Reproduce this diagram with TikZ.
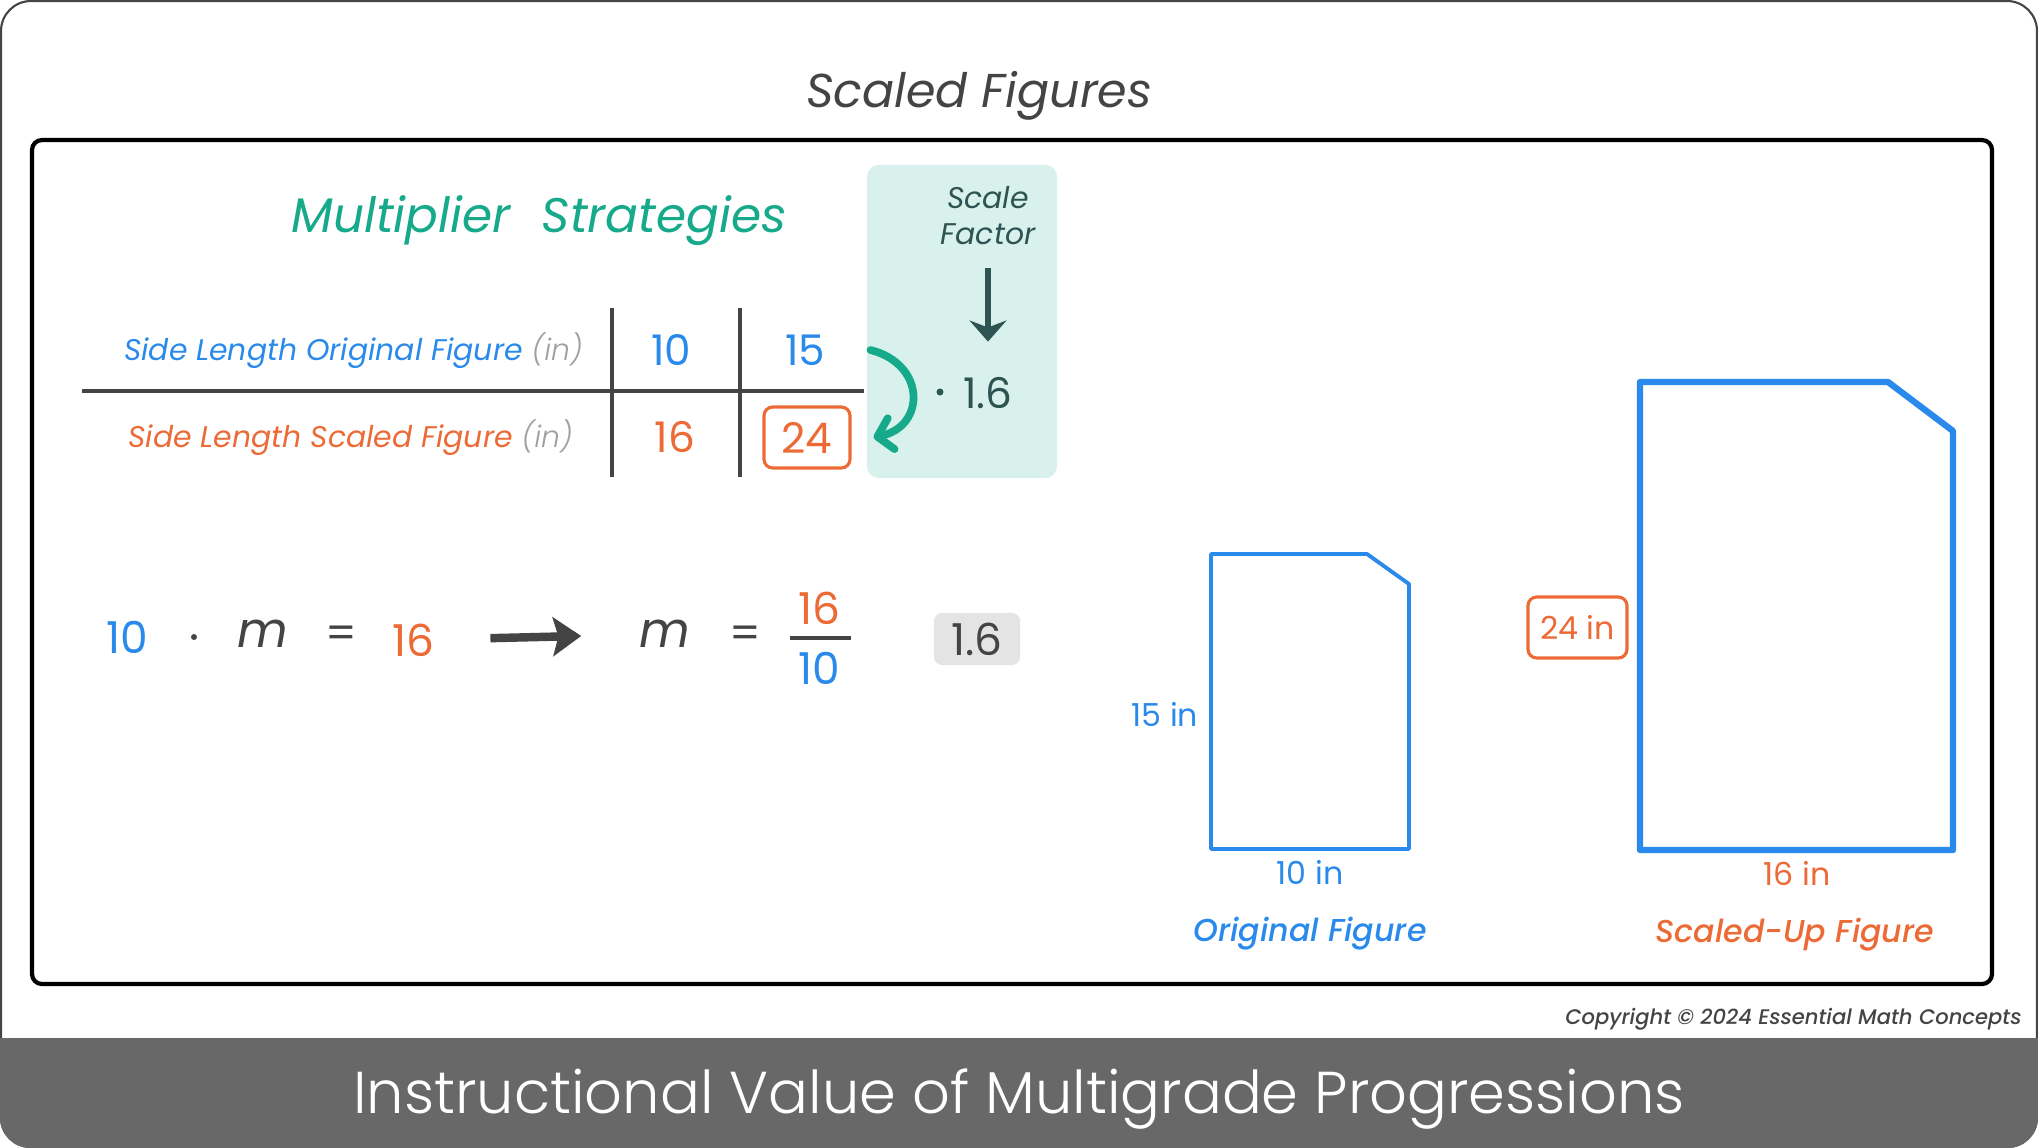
\documentclass[tikz,border=0pt]{standalone}
\usepackage{fontspec}
\setmainfont{Poppins}
\newfontfamily\lightfont{Poppins Light}
\newfontfamily\mediumfont{Poppins Medium}
\usetikzlibrary{arrows.meta}
\definecolor{figblue}{HTML}{2A8AEC}
\definecolor{scaleorange}{HTML}{EC6A36}
\definecolor{stratteal}{HTML}{16A98A}
\definecolor{tealfill}{HTML}{D8F1EC}
\definecolor{slatedark}{HTML}{2E5353}
\definecolor{textgray}{HTML}{444444}
\definecolor{ingray}{HTML}{A0A0A0}
\definecolor{bandgray}{HTML}{686868}
\definecolor{answergray}{HTML}{E4E4E4}

\begin{document}
\begin{tikzpicture}[
    x=0.01cm, y=-0.01cm,
    heading/.style={font=\fontsize{13.5}{15}\selectfont\itshape, text=textgray},
    rowlabel/.style={anchor=east, font=\fontsize{8.5}{10}\selectfont\itshape},
    cellnum/.style={font=\fontsize{12}{14}\selectfont},
    eqnum/.style={font=\fontsize{12.5}{14}\selectfont},
    sizelabel/.style={font=\fontsize{9}{11}\selectfont},
    figname/.style={font=\fontsize{9}{11}\selectfont\mediumfont\itshape},
    rule/.style={line width=0.9pt, draw=textgray},
    answerbox/.style={draw=scaleorange, line width=0.9pt, rounded corners=2.5pt,
                      minimum height=0.61cm, inner sep=0pt},
    smalldot/.style={circle, fill=#1, inner sep=0pt, minimum size=0.07cm},
    sfarrow/.style={-{Stealth[length=6pt, width=10.5pt, inset=2pt]}, line width=1.5pt, slatedark},
    bigarrow/.style={-{Stealth[length=8pt, width=11pt, inset=1.5pt]}, line width=2.4pt, textgray},
    curvearrow/.style={-{Straight Barb[round, length=4pt, width=9pt]}, line width=2.2pt,
                       stratteal, line cap=round}
]
\useasboundingbox (0,0) rectangle (2038,1148);

% slide outline and footer band
\draw[textgray, line width=0.6pt, rounded corners=0.3cm] (1,1) rectangle (2037,1147);
\fill[bandgray] (0,1038) -- (2038,1038) [rounded corners=0.3cm] -- (2038,1148) -- (0,1148)
    [sharp corners] -- cycle;
\node[text=white, font=\fontsize{16.8}{18}\selectfont\lightfont] at (1019,1099) (footer)
    {Instructional Value of Multigrade Progressions};
\node[anchor=east, text=textgray, font=\fontsize{6}{7}\selectfont\mediumfont\itshape]
    at (2034,1019) (copyright) {Copyright © 2024 Essential Math Concepts};

% title and frame
\node[heading] at (979,96) (title) {Scaled Figures};
\draw[line width=1.2pt, rounded corners=0.1cm] (32,140) rectangle (1992,984);

% scale factor panel
\node[fill=tealfill, rounded corners=0.12cm, minimum width=1.9cm, minimum height=3.13cm]
    at (962,321.5) (sfpanel) {};
\node[text=slatedark, align=center, inner sep=0pt,
      font=\fontsize{8.5}{10.2}\selectfont\itshape] at (988,216) (scalefactor) {Scale\\Factor};
\node[smalldot=slatedark] at (940,392) (sfdot) {};
\node[text=slatedark, cellnum, inner sep=0pt] at (988,393) (sfvalue) {1.6};
\draw[sfarrow, shorten <=0.22cm, shorten >=0.35cm] (scalefactor) -- (sfvalue);

% ratio table
\node[font=\fontsize{13.8}{16}\selectfont\itshape, text=stratteal]
    at (539,221) (strategies) {Multiplier\hspace{0.35em} Strategies};
\draw[rule] (612,308) -- (612,477);
\draw[rule] (740,308) -- (740,477);
\draw[rule] (82,391) -- (864,391);
\node[rowlabel, text=figblue] at (595,351) (origlabel)
    {Side Length Original Figure {\lightfont\itshape\color{ingray}(in)}};
\node[rowlabel, text=scaleorange] at (585,438) (scaledlabel)
    {Side Length Scaled Figure {\lightfont\itshape\color{ingray}(in)}};
\node[cellnum, text=figblue] at (671,350) (c10) {10};
\node[cellnum, text=figblue] at (805,350) (c15) {15};
\node[cellnum, text=scaleorange] at (675,437) (c16) {16};
\node[cellnum, text=scaleorange, answerbox, minimum width=0.86cm] at (807,437.5) (c24) {24};
\draw[curvearrow] ([xshift=0.33cm]c15.east) .. controls (926,364) and (926,426)
    .. ([xshift=0.22cm]c24.east);

% equation
\node[eqnum, text=figblue] at (127,637) (eq10) {10};
\node[smalldot=textgray, minimum size=0.06cm] at (194,637) (eqdot) {};
\node[eqnum, text=textgray, font=\fontsize{14}{16}\selectfont\itshape] at (263,634) (eqm) {m};
\node[eqnum, text=textgray] at (341,637) (eqeq) {=};
\node[eqnum, text=scaleorange] at (413,640) (eq16) {16};
\node[eqnum, text=textgray, font=\fontsize{14}{16}\selectfont\itshape] at (665,634) (eqmm) {m};
\node[eqnum, text=textgray] at (745,637) (eqeqq) {=};
\node[eqnum, text=scaleorange] at (819,608) (fracnum) {16};
\node[eqnum, text=figblue] at (819,668) (fracden) {10};
\draw[line width=1.3pt, textgray] (790,638) -- (851,638);
\draw[bigarrow, shorten <=0.44cm, shorten >=0.46cm] (eq16) -- (eqmm);
\node[eqnum, text=textgray, fill=answergray, rounded corners=0.08cm, minimum width=0.86cm,
      minimum height=0.52cm, inner sep=0pt] at (977,639) (answer) {1.6};

% original figure
\draw[figblue, line width=1.1pt, line join=round]
    (1211,554) -- (1367,554) -- (1409,584) -- (1409,849) -- (1211,849) -- cycle;
\node[sizelabel, text=figblue] at (1165,714) (orighgt) {15 in};
\node[sizelabel, text=figblue] at (1310,872) (origwid) {10 in};
\node[figname, text=figblue] at (1310,934) (origname) {Original Figure};

% scaled-up figure
\draw[figblue, line width=1.8pt, line join=round]
    (1640,382) -- (1888,382) -- (1953,431) -- (1953,850) -- (1640,850) -- cycle;
\node[sizelabel, text=scaleorange, answerbox, minimum width=0.99cm] at (1577.5,627.5)
    (scaledhgt) {24 in};
\node[sizelabel, text=scaleorange] at (1797,873) (scaledwid) {16 in};
\node[figname, text=scaleorange] at (1795,935) (scaledname) {Scaled-Up Figure};

\end{tikzpicture}
\end{document}
